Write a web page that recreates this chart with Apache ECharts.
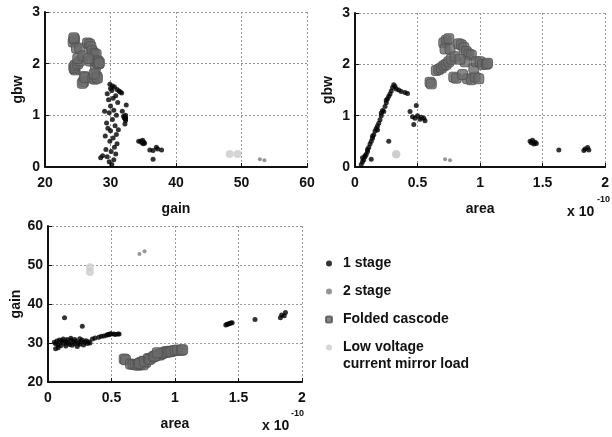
<!DOCTYPE html>
<html>
<head>
<meta charset="utf-8">
<title>gain / gbw / area</title>
<script src="https://cdn.jsdelivr.net/npm/echarts@6/dist/echarts.min.js"></script>
<style>
  html, body { margin: 0; padding: 0; background: #fff; }
  #chart { width: 612px; height: 437px; }
</style>
</head>
<body>
<div id="chart"></div>
<script>
// each point: [area (x1e-10), gain, gbw]
var oneStage = [
  [0.05, 30.2, 0.05], [0.06, 29.8, 0.10], [0.06, 28.5, 0.18], [0.07, 30.5, 0.14], [0.08, 29.5, 0.20],
  [0.08, 28.8, 0.22], [0.09, 30.8, 0.25], [0.10, 30.1, 0.30], [0.10, 29.3, 0.34], [0.11, 30.6, 0.38],
  [0.12, 31.0, 0.45], [0.13, 29.9, 0.50], [0.14, 30.4, 0.56], [0.14, 29.2, 0.60], [0.15, 30.9, 0.63],
  [0.16, 30.0, 0.70], [0.17, 29.6, 0.75], [0.18, 30.7, 0.80], [0.18, 31.2, 0.72], [0.19, 29.4, 0.85],
  [0.20, 30.3, 0.92], [0.21, 30.9, 1.00], [0.21, 29.8, 1.05], [0.22, 30.5, 1.10], [0.23, 29.1, 1.08],
  [0.24, 30.0, 1.18], [0.25, 31.1, 1.25], [0.25, 29.7, 1.30], [0.26, 30.4, 1.33], [0.27, 30.8, 1.38],
  [0.28, 29.5, 1.42], [0.29, 30.2, 1.48], [0.30, 30.6, 1.55], [0.31, 29.9, 1.60], [0.32, 30.3, 1.57],
  [0.33, 30.0, 1.52], [0.35, 31.0, 1.50], [0.37, 31.3, 1.47], [0.40, 31.5, 1.45], [0.42, 31.7, 1.43],
  [0.44, 31.8, 1.08], [0.46, 32.0, 0.98], [0.47, 32.2, 0.83], [0.48, 32.1, 0.95], [0.50, 32.3, 1.00],
  [0.52, 32.3, 0.93], [0.53, 32.2, 0.97], [0.55, 32.3, 0.95], [0.56, 32.3, 0.90], [0.49, 32.4, 1.20],
  [0.13, 36.5, 0.15], [0.27, 34.3, 0.50],
  [1.40, 34.6, 0.50], [1.41, 34.8, 0.47], [1.42, 34.9, 0.52], [1.43, 35.0, 0.45], [1.44, 35.1, 0.48],
  [1.45, 35.2, 0.46], [1.63, 36.0, 0.33], [1.83, 36.5, 0.32], [1.84, 37.2, 0.35], [1.86, 37.0, 0.38],
  [1.87, 37.8, 0.33]
];
var twoStage = [
  [0.72, 52.8, 0.15], [0.76, 53.5, 0.13]
];
var foldedCascode = [
  [0.60, 25.9, 1.65], [0.61, 25.7, 1.62], [0.65, 24.6, 1.88], [0.67, 24.5, 1.90], [0.69, 24.4, 1.93],
  [0.71, 24.6, 1.97], [0.73, 25.0, 2.00], [0.75, 25.3, 2.05], [0.77, 25.0, 2.10], [0.71, 24.3, 2.42],
  [0.73, 24.5, 2.47], [0.75, 24.4, 2.50], [0.72, 24.8, 2.30], [0.76, 25.3, 2.30], [0.79, 26.0, 1.75],
  [0.81, 26.1, 1.73], [0.80, 25.8, 2.15], [0.83, 26.5, 2.40], [0.85, 26.8, 2.38], [0.87, 27.0, 2.33],
  [0.89, 27.2, 2.25], [0.91, 27.5, 2.20], [0.93, 27.8, 2.18], [0.88, 26.9, 2.05], [0.90, 27.3, 1.72],
  [0.93, 27.6, 1.70], [0.96, 27.9, 1.75], [0.99, 28.0, 1.72], [0.95, 27.7, 1.92], [0.97, 27.8, 2.05],
  [1.00, 28.1, 2.05], [1.02, 28.2, 2.00], [1.05, 28.1, 2.00], [0.84, 26.6, 2.10], [0.86, 27.5, 1.80],
  [1.06, 28.3, 2.02]
];
var lowVoltage = [
  [0.33, 48.2, 0.25], [0.33, 49.4, 0.25]
];

var gainTicks = [20, 60, 10];
var gbwTicks = [0, 3, 1];
var areaTicks = [0, 2, 0.5];

var FONT = 'Liberation Sans';
var chart = echarts.init(document.getElementById('chart'));

function xAxis(grid, name, t) {
  return {
    gridIndex: grid, type: 'value', min: t[0], max: t[1], interval: t[2],
    name: name, nameLocation: 'middle', nameGap: 35,
    nameTextStyle: { color: '#111', fontFamily: FONT, fontWeight: 'bold', fontSize: 14 },
    axisLine: { lineStyle: { color: '#111', width: 2 } },
    axisTick: { inside: true, length: 4, lineStyle: { color: '#111' } },
    axisLabel: { color: '#111', fontFamily: FONT, fontWeight: 'bold', fontSize: 14, margin: 9 },
    splitLine: { show: true, lineStyle: { color: '#999', type: [2, 2], width: 1 } }
  };
}
function yAxis(grid, name, t) {
  return {
    gridIndex: grid, type: 'value', min: t[0], max: t[1], interval: t[2],
    name: name, nameLocation: 'middle', nameGap: 20, nameRotate: 90,
    nameTextStyle: { color: '#111', fontFamily: FONT, fontWeight: 'bold', fontSize: 14 },
    axisLine: { show: true, lineStyle: { color: '#111', width: 2 } },
    axisTick: { show: true, inside: true, length: 4, lineStyle: { color: '#111' } },
    axisLabel: { color: '#111', fontFamily: FONT, fontWeight: 'bold', fontSize: 14, margin: 5 },
    splitLine: { show: true, lineStyle: { color: '#999', type: [2, 2], width: 1 } }
  };
}

// [x index, y index] into the point triples, for each panel
var panels = [[1, 2], [0, 2], [0, 1]];
var kinds = [
  { name: 'Folded cascode', data: foldedCascode, symbol: 'roundRect', size: 10,
    style: { color: '#6a6a6a', borderColor: '#505050', borderWidth: 1 } },
  { name: 'Low voltage current mirror load', data: lowVoltage, symbol: 'circle', size: 8,
    style: { color: '#cccccc' } },
  { name: '1 stage', data: oneStage, symbol: 'circle', size: 5,
    style: { color: '#000' } },
  { name: '2 stage', data: twoStage, symbol: 'circle', size: 4,
    style: { color: '#7a7a7a' } }
];

var series = [];
kinds.forEach(function (k) {
  panels.forEach(function (p, i) {
    series.push({
      type: 'scatter', name: k.name, xAxisIndex: i, yAxisIndex: i,
      symbol: k.symbol, symbolSize: k.size, itemStyle: k.style,
      data: k.data.map(function (d) { return [d[p[0]], d[p[1]]]; })
    });
  });
});

function label(text, left, top, size) {
  return {
    type: 'text', left: left, top: top,
    style: { text: text, fontFamily: FONT, fontWeight: 'bold', fontSize: size, fill: '#111' }
  };
}

chart.setOption({
  animation: false,
  grid: [
    { left: 45, top: 12, width: 262, height: 155 },
    { left: 355, top: 13, width: 251, height: 154 },
    { left: 48, top: 226, width: 254, height: 156 }
  ],
  xAxis: [xAxis(0, 'gain', gainTicks), xAxis(1, 'area', areaTicks), xAxis(2, 'area', areaTicks)],
  yAxis: [yAxis(0, 'gbw', gbwTicks), yAxis(1, 'gbw', gbwTicks), yAxis(2, 'gain', gainTicks)],
  legend: {
    orient: 'vertical', left: 320, top: 249, itemGap: 9, itemWidth: 6, itemHeight: 6,
    textStyle: { color: '#111', fontFamily: FONT, fontWeight: 'bold', fontSize: 14, lineHeight: 19, padding: [0, 0, 0, 6] },
    data: [
      { name: '1 stage', icon: 'circle' },
      { name: '2 stage', icon: 'circle' },
      { name: 'Folded cascode', icon: 'roundRect' },
      { name: 'Low voltage current mirror load', icon: 'circle' }
    ],
    formatter: function (n) {
      return n === 'Low voltage current mirror load' ? 'Low voltage' : n;
    }
  },
  graphic: [
    label('current mirror load', 343, 357, 14),
    label('x 10', 567, 205, 14), label('-10', 597, 195, 9),
    label('x 10', 262, 419, 14), label('-10', 291, 409, 9)
  ],
  series: series
});
</script>
</body>
</html>
